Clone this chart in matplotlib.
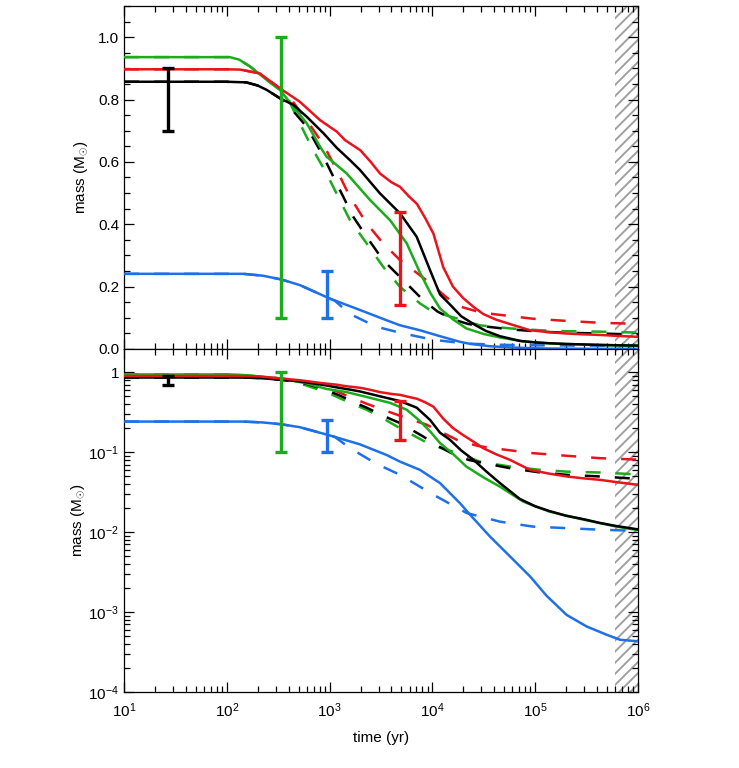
import numpy as np
import matplotlib
matplotlib.use("Agg")
import matplotlib.pyplot as plt
from matplotlib.ticker import FuncFormatter, LogLocator, MultipleLocator, NullFormatter

plt.rcParams['font.family'] = ['Liberation Sans', 'DejaVu Sans']
plt.rcParams['mathtext.fontset'] = 'custom'
plt.rcParams['mathtext.rm'] = 'Liberation Sans'
plt.rcParams['mathtext.it'] = 'Liberation Sans:italic'
plt.rcParams['mathtext.bf'] = 'Liberation Sans:bold'
plt.rcParams['hatch.linewidth'] = 1.4

# ---------------- data (log10 of time in yr, mass in Msun) ----------------
red_solid_logt = [1.0, 2.0, 2.13, 2.32, 2.517, 2.71, 2.907, 3.07, 3.15, 3.30, 3.40, 3.49, 3.60,
                  3.685, 3.77, 3.85, 3.93, 4.01, 4.106, 4.20, 4.30, 4.40, 4.495, 4.62, 4.755,
                  4.95, 5.13, 5.306, 5.47, 5.63, 5.80, 6.0]
red_solid_m = [0.897, 0.897, 0.896, 0.884, 0.836, 0.793, 0.734, 0.697, 0.67, 0.637, 0.60,
               0.563, 0.535, 0.52, 0.49, 0.465, 0.42, 0.37, 0.262, 0.20, 0.163, 0.135, 0.112,
               0.094, 0.080, 0.060, 0.054, 0.0496, 0.047, 0.045, 0.042, 0.039]

black_solid_logt = [1.0, 2.0, 2.19, 2.30, 2.388, 2.517, 2.647, 2.777, 2.94, 3.07, 3.20, 3.296,
                    3.49, 3.685, 3.847, 3.977, 4.074, 4.17, 4.28, 4.40, 4.52, 4.657, 4.85, 5.0,
                    5.14, 5.30, 5.47, 5.63, 5.79, 6.0]
black_solid_m = [0.857, 0.857, 0.855, 0.845, 0.831, 0.804, 0.783, 0.745, 0.692, 0.645, 0.605,
                 0.574, 0.499, 0.435, 0.36, 0.253, 0.175, 0.143, 0.105, 0.080, 0.058, 0.041,
                 0.026, 0.021, 0.0183, 0.016, 0.0145, 0.013, 0.0119, 0.0108]

green_solid_logt = [1.0, 2.03, 2.12, 2.226, 2.388, 2.517, 2.647, 2.777, 2.907, 2.97, 3.166,
                    3.393, 3.588, 3.75, 3.879, 3.98, 4.074, 4.20, 4.33, 4.50, 4.657, 4.885,
                    5.14, 5.47, 5.79, 6.0]
green_solid_m = [0.936, 0.936, 0.928, 0.906, 0.863, 0.831, 0.777, 0.724, 0.649, 0.617, 0.563,
                 0.478, 0.413, 0.339, 0.245, 0.18, 0.13, 0.095, 0.066, 0.048, 0.037, 0.024,
                 0.018, 0.0143, 0.0117, 0.0106]

blue_solid_logt = [1.0, 2.16, 2.35, 2.53, 2.71, 3.0, 3.296, 3.555, 3.685, 3.879, 4.074, 4.268,
                   4.366, 4.56, 4.755, 4.95, 5.11, 5.306, 5.50, 5.695, 5.825, 6.0]
blue_solid_m = [0.241, 0.241, 0.235, 0.223, 0.205, 0.162, 0.125, 0.092, 0.076, 0.060, 0.041,
                0.023, 0.0165, 0.0088, 0.00496, 0.00279, 0.0016, 0.00092, 0.00066, 0.00052,
                0.00045, 0.00043]

black_dashed_logt = [1.0, 2.0, 2.19, 2.30, 2.388, 2.517, 2.61, 2.777, 2.94, 3.10, 3.23, 3.36,
                     3.52, 3.685, 3.91, 4.05, 4.2, 4.35, 4.495, 4.755, 5.05, 5.306, 5.63, 5.92, 6.0]
black_dashed_m = [0.857, 0.857, 0.855, 0.845, 0.831, 0.804, 0.777, 0.713, 0.617, 0.51, 0.424,
                  0.36, 0.285, 0.231, 0.157, 0.12, 0.095, 0.08, 0.073, 0.063, 0.0556, 0.052,
                  0.0496, 0.047, 0.0465]

green_dashed_logt = [1.0, 2.03, 2.12, 2.226, 2.388, 2.517, 2.60, 2.71, 2.84, 2.97, 3.198, 3.36,
                     3.52, 3.685, 3.88, 3.977, 4.07, 4.27, 4.46, 4.755, 5.05, 5.306, 5.63, 5.95, 6.0]
green_dashed_m = [0.936, 0.936, 0.928, 0.906, 0.863, 0.831, 0.80, 0.724, 0.638, 0.563, 0.413,
                  0.339, 0.264, 0.199, 0.146, 0.125, 0.114, 0.095, 0.076, 0.066, 0.060, 0.057,
                  0.0556, 0.053, 0.0525]

red_dashed_logt = [1.0, 2.0, 2.13, 2.32, 2.517, 2.60, 2.777, 2.94, 3.07, 3.198, 3.36, 3.52,
                   3.685, 3.94, 4.14, 4.27, 4.45, 4.59, 4.98, 5.306, 5.63, 5.95, 6.0]
red_dashed_m = [0.897, 0.897, 0.896, 0.884, 0.836, 0.812, 0.734, 0.655, 0.574, 0.488, 0.403,
                0.339, 0.285, 0.221, 0.165, 0.136, 0.119, 0.112, 0.097, 0.090, 0.084, 0.081,
                0.0805]

blue_dashed_logt = [1.0, 2.16, 2.35, 2.53, 2.71, 3.0, 3.05, 3.2, 3.45, 3.685, 4.01, 4.334, 4.657,
                    4.98, 5.306, 5.63, 5.95, 6.0]
blue_dashed_m = [0.241, 0.241, 0.235, 0.223, 0.205, 0.162, 0.155, 0.112, 0.072, 0.052, 0.0293,
                 0.0173, 0.0135, 0.0117, 0.0112, 0.0107, 0.0104, 0.0103]

# observational error bars: time (yr), low, high
err_t = [27, 336, 950, 4840]
err_lo = [0.70, 0.10, 0.10, 0.14]
err_hi = [0.90, 1.00, 0.25, 0.44]
err_colors = ['black', 'green', 'blue', 'red']

hatch_start = 6.0e5
hatch_end = 1.0e6

colors = {'red': '#e8141c', 'black': '#000000', 'green': '#1bab1b', 'blue': '#1e70e6'}

curves = [
    ('blue', blue_dashed_logt, blue_dashed_m, '--'),
    ('green', green_dashed_logt, green_dashed_m, '--'),
    ('black', black_dashed_logt, black_dashed_m, '--'),
    ('red', red_dashed_logt, red_dashed_m, '--'),
    ('blue', blue_solid_logt, blue_solid_m, '-'),
    ('green', green_solid_logt, green_solid_m, '-'),
    ('black', black_solid_logt, black_solid_m, '-'),
    ('red', red_solid_logt, red_solid_m, '-'),
]

fig = plt.figure(figsize=(7.39, 7.68), dpi=100)
L, R = 0.1678, 0.8633
ax1 = fig.add_axes([L, 0.5456, R - L, 0.9922 - 0.5456])
ax2 = fig.add_axes([L, 0.0990, R - L, 0.5456 - 0.0990], sharex=ax1)

for ax in (ax1, ax2):
    ax.axvspan(hatch_start, hatch_end, facecolor='none', edgecolor='#a0a0a0',
               hatch='///', linewidth=0, zorder=0)
    for cname, lt, m, ls in curves:
        t = 10 ** np.array(lt)
        if ls == '--':
            ax.plot(t, m, color=colors[cname], lw=1.8, linestyle=(0, (6, 6)), zorder=2)
        else:
            ax.plot(t, m, color=colors[cname], lw=1.8, linestyle='-', zorder=3)
    for t, lo, hi, c in zip(err_t, err_lo, err_hi, err_colors):
        mid = 0.5 * (lo + hi)
        ax.errorbar([t], [mid], yerr=[[mid - lo], [hi - mid]], fmt='none',
                    ecolor=colors[c], elinewidth=2.4, capsize=4.5, capthick=2.4, zorder=4)
    ax.set_xscale('log')
    ax.set_xlim(10, 1e6)
    ax.tick_params(which='both', direction='in', top=True, right=True, labelsize=11,
                   width=0.9, colors='black')
    ax.tick_params(which='major', length=7)
    ax.tick_params(which='minor', length=4)
    ax.xaxis.set_major_locator(LogLocator(base=10, numticks=10))
    ax.xaxis.set_minor_locator(LogLocator(base=10, subs=np.arange(2, 10), numticks=20))
    for s in ax.spines.values():
        s.set_linewidth(0.9)

ax1.set_ylim(0, 1.1)
ax1.yaxis.set_major_locator(MultipleLocator(0.2))
ax1.yaxis.set_minor_locator(MultipleLocator(0.05))
ax1.yaxis.set_major_formatter(FuncFormatter(lambda v, p: f'{v:.1f}'))
ax1.tick_params(axis='x', labelbottom=False)
ax1.set_ylabel(r'mass (M$_{\odot}$)', fontsize=11)
ax1.yaxis.set_label_coords(-0.066, 0.5)

ax2.set_yscale('log')
ax2.set_ylim(1e-4, 1.95)
ax2.yaxis.set_major_locator(LogLocator(base=10, numticks=10))
ax2.yaxis.set_minor_locator(LogLocator(base=10, subs=np.arange(2, 10), numticks=20))
ax2.yaxis.set_minor_formatter(NullFormatter())


def ylog_fmt(v, p):
    e = int(round(np.log10(v)))
    if e == 0:
        return '1'
    return r'$\mathdefault{10^{%d}}$' % e


ax2.yaxis.set_major_formatter(FuncFormatter(ylog_fmt))
ax2.tick_params(axis='x', pad=7)
ax2.set_ylabel(r'mass (M$_{\odot}$)', fontsize=11)
ax2.yaxis.set_label_coords(-0.072, 0.5)
ax2.set_xlabel('time (yr)', fontsize=11, labelpad=8)

fig.savefig('out.png', dpi=100)
